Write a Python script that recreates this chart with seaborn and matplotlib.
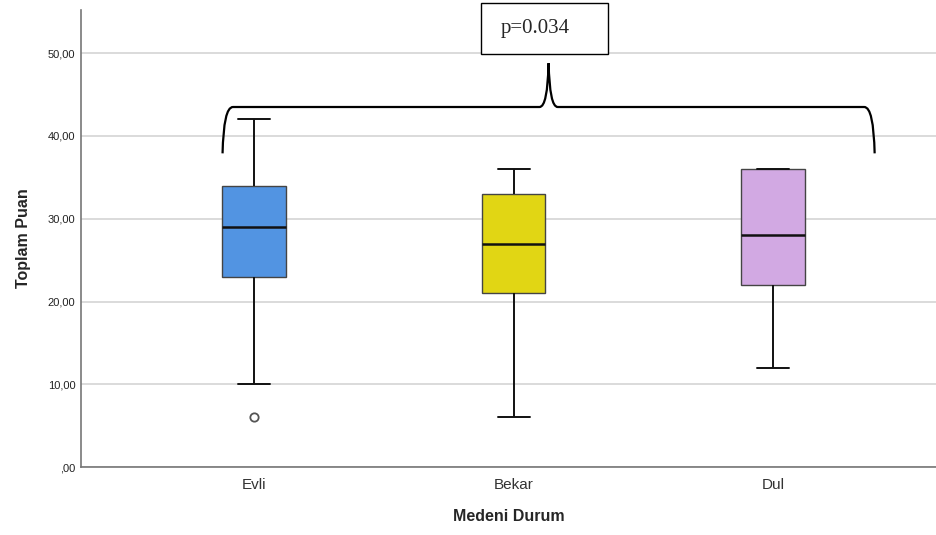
import numpy as np
import pandas as pd
import matplotlib
matplotlib.use("Agg")
import matplotlib.pyplot as plt
from matplotlib.path import Path
from matplotlib.patches import PathPatch, Rectangle
from matplotlib.ticker import FuncFormatter
import seaborn as sns

# Group labels and scores per group
categories = ["Evli", "Bekar", "Dul"]
evli = [6, 10, 23, 26, 29, 31, 34, 38, 42]
bekar = [6, 15, 21, 24, 27, 30, 33, 35, 36]
dul = [12, 18, 22, 25, 28, 32, 36, 36, 36]
colors = ["#5294e2", "#e1d614", "#d2a9e3"]
p_text = "p=0.034"
y_ticks = [0, 10, 20, 30, 40, 50]

df = pd.DataFrame({
    "Medeni Durum": np.repeat(categories, [len(evli), len(bekar), len(dul)]),
    "Toplam Puan": evli + bekar + dul,
})

sns.set_theme(style="white")
plt.rcParams["font.family"] = ["Liberation Sans", "DejaVu Sans"]

fig = plt.figure(figsize=(9.37, 5.35), dpi=100)
ax = fig.add_axes([0.0864, 0.127, 0.9136, 0.854])

sns.boxplot(
    data=df, x="Medeni Durum", y="Toplam Puan", hue="Medeni Durum",
    order=categories, hue_order=categories, palette=colors, legend=False,
    saturation=1, width=0.246, whis=1.5, ax=ax, zorder=3,
    boxprops=dict(edgecolor="#444444", linewidth=1.0),
    medianprops=dict(color="#111111", linewidth=1.8),
    whiskerprops=dict(color="#111111", linewidth=1.4),
    capprops=dict(color="#111111", linewidth=1.4),
    flierprops=dict(marker="o", markersize=6, markerfacecolor="white",
                    markeredgecolor="#555555", markeredgewidth=1.3),
)

ax.set_ylim(0, 55.2)
ax.set_xlim(-0.665, 2.63)
ax.set_yticks(y_ticks)
ax.yaxis.set_major_formatter(FuncFormatter(
    lambda v, _: ",00" if v == 0 else f"{v:.2f}".replace(".", ",")))
ax.yaxis.grid(True, color="#d4d4d4", linewidth=1.2, zorder=0)
ax.set_axisbelow(True)
ax.tick_params(axis="y", labelsize=8, length=0, pad=4, labelcolor="#222222")
ax.tick_params(axis="x", labelsize=11, length=0, pad=8, labelcolor="#333333")
for s in ["top", "right"]:
    ax.spines[s].set_visible(False)
for s in ["left", "bottom"]:
    ax.spines[s].set_color("#777777")
    ax.spines[s].set_linewidth(1.2)

ax.set_xlabel("Medeni Durum", fontsize=11.5, fontweight="bold", labelpad=12)
ax.set_ylabel("Toplam Puan", fontsize=11.5, fontweight="bold", labelpad=12)

# Curly brace spanning all groups
x0, x1 = -0.12, 2.39
xc = (x0 + x1) / 2
y_end, y_bar, y_tip = 37.9, 43.5, 48.8
verts = [
    (x0, y_end), (x0 + 0.004, y_bar), (x0 + 0.04, y_bar),
    (xc - 0.035, y_bar),
    (xc - 0.004, y_bar), (xc, y_tip),
    (xc + 0.004, y_bar), (xc + 0.035, y_bar),
    (x1 - 0.04, y_bar),
    (x1 - 0.004, y_bar), (x1, y_end),
]
codes = [Path.MOVETO, Path.CURVE3, Path.CURVE3,
         Path.LINETO,
         Path.CURVE3, Path.CURVE3,
         Path.CURVE3, Path.CURVE3,
         Path.LINETO,
         Path.CURVE3, Path.CURVE3]
ax.add_patch(PathPatch(Path(verts, codes), facecolor="none",
                       edgecolor="black", linewidth=1.6, zorder=4,
                       clip_on=False))

# Significance label in a framed box above the brace
ax.add_patch(Rectangle((0.873, 49.9), 0.492, 6.15, facecolor="white",
                       edgecolor="black", linewidth=1.0, zorder=5,
                       clip_on=False))
ax.text(1.085, 53.0, p_text, ha="center", va="center", fontsize=15,
        family=["Liberation Serif", "DejaVu Serif"], zorder=6, clip_on=False)

fig.savefig("out.png", dpi=100)
